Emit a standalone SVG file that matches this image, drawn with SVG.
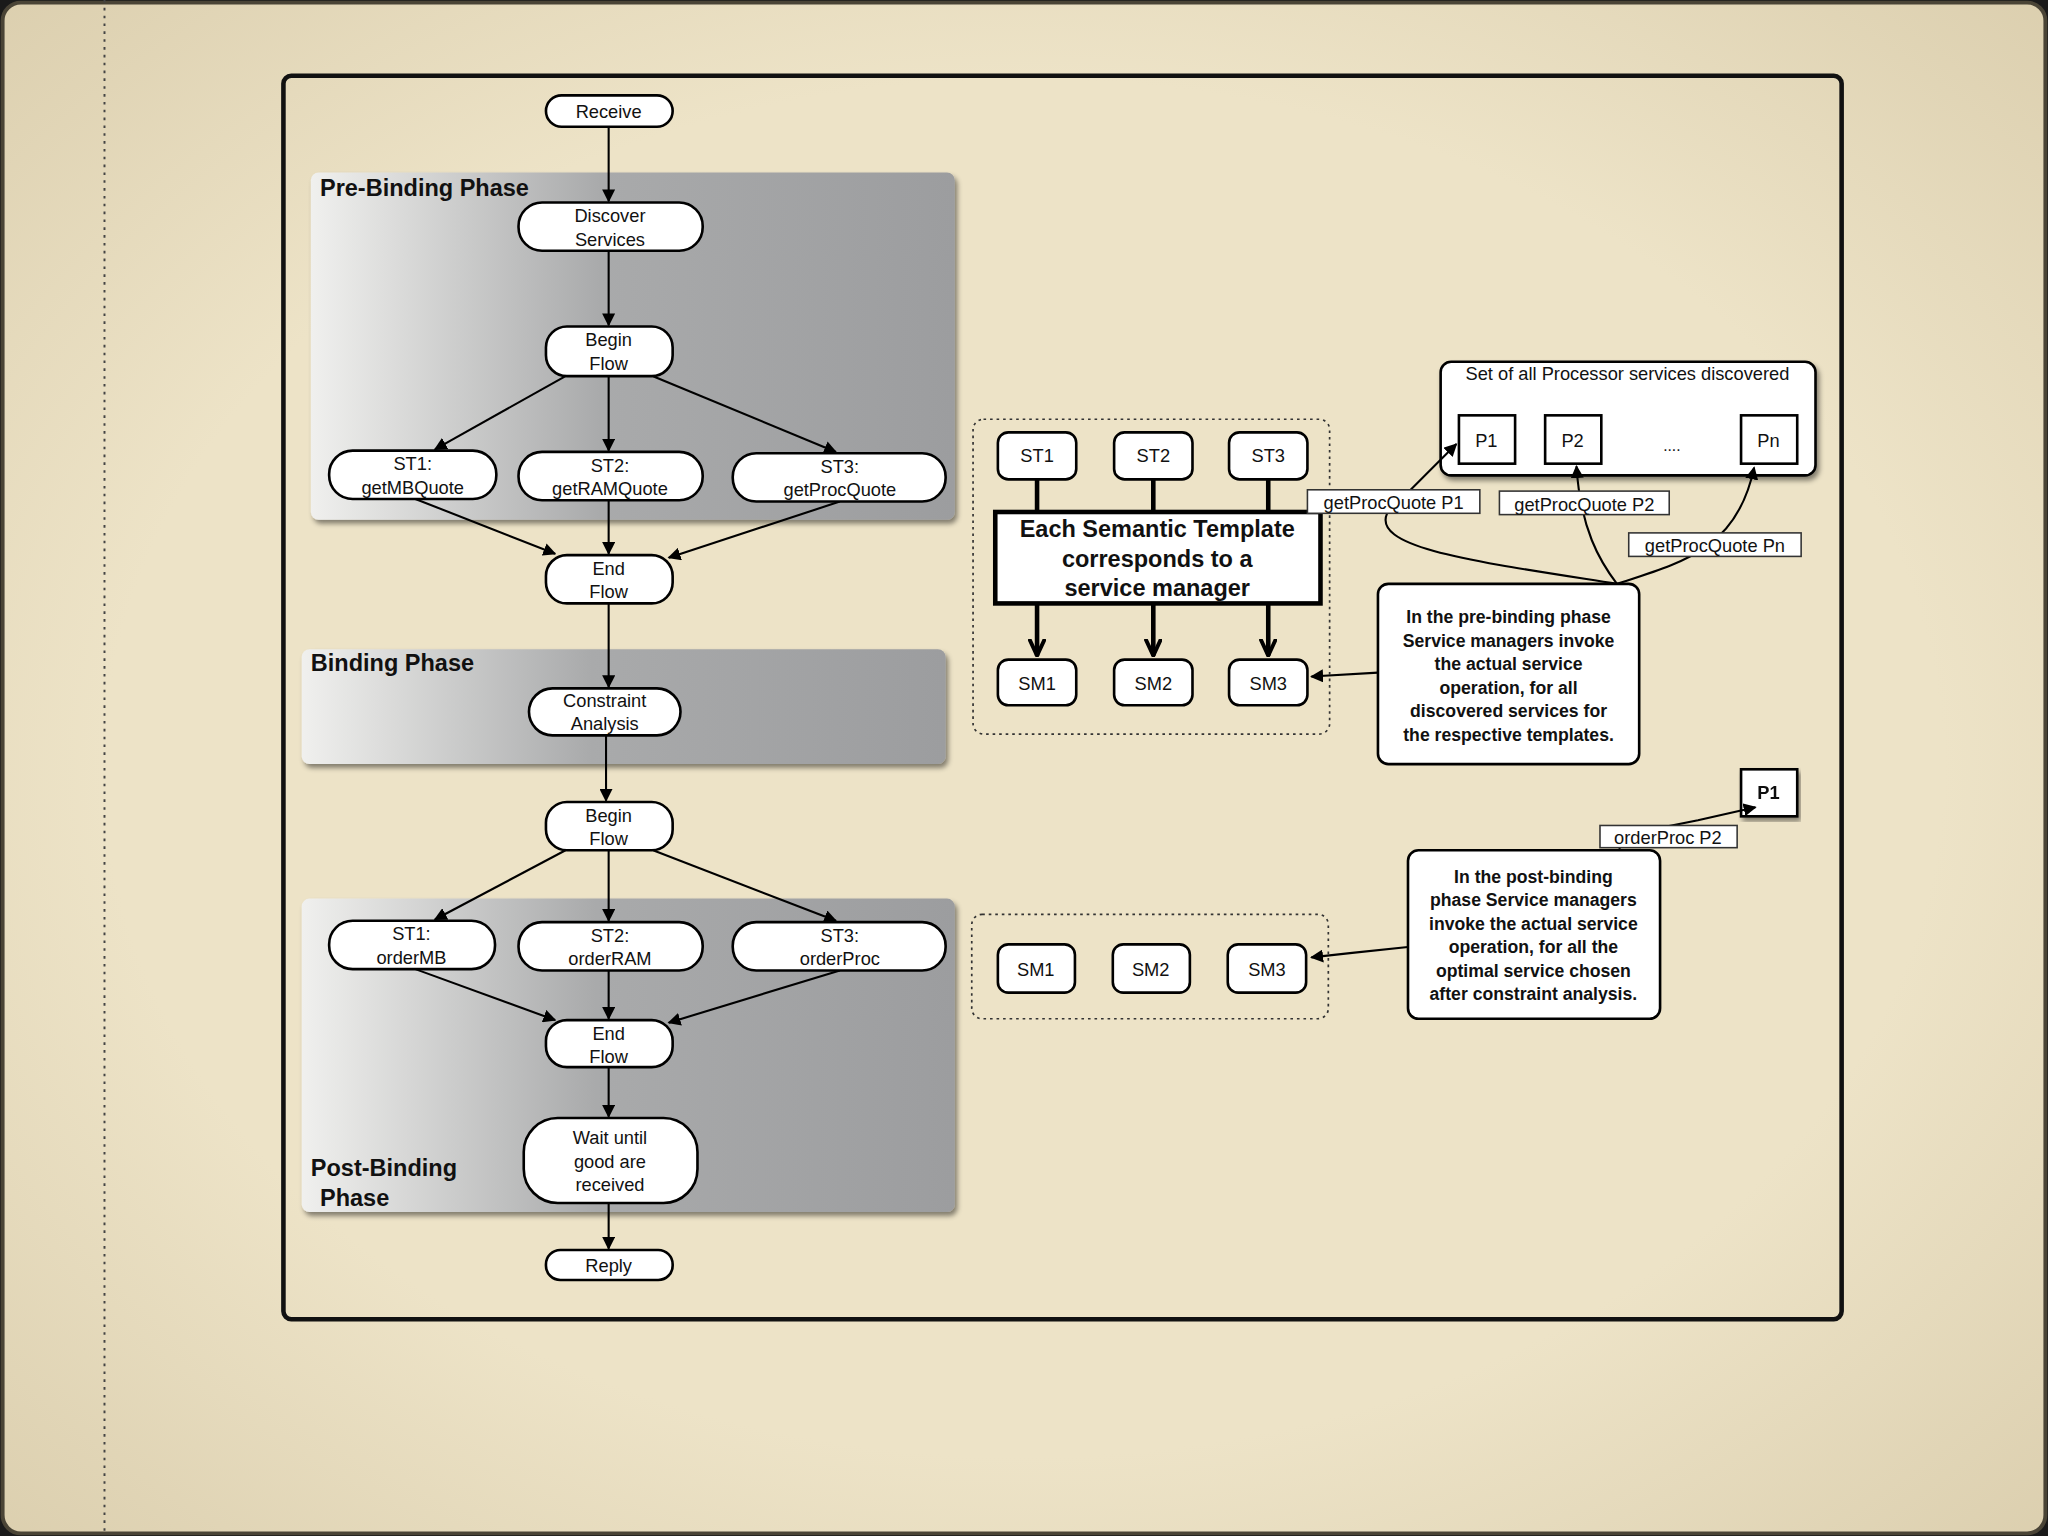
<svg xmlns="http://www.w3.org/2000/svg" width="2048" height="1536" viewBox="0 0 2048 1536">
<defs>
<linearGradient id="pg" x1="0" x2="1" y1="0" y2="0"><stop offset="0" stop-color="#f0f0ee"/><stop offset="0.45" stop-color="#a9aaab"/><stop offset="1" stop-color="#9c9d9f"/></linearGradient>
<radialGradient id="bg" cx="0.5" cy="0.5" r="0.75"><stop offset="0.6" stop-color="#ede3c7"/><stop offset="1" stop-color="#d9ccab"/></radialGradient>
<marker id="ah" markerWidth="10" markerHeight="10" refX="9" refY="5" orient="auto" markerUnits="userSpaceOnUse"><path d="M0,0 L10,5 L0,10 Z" fill="#000"/></marker>
<marker id="ah2" markerWidth="14" markerHeight="14" refX="13" refY="7" orient="auto" markerUnits="userSpaceOnUse"><path d="M0,1 L13,7 L0,13" fill="none" stroke="#000" stroke-width="3"/></marker>
<filter id="sh" x="-5%" y="-5%" width="110%" height="115%"><feDropShadow dx="2" dy="3" stdDeviation="2" flood-opacity="0.45"/></filter>
</defs>
<style>
text{font-family:"Liberation Sans",Arial,sans-serif;fill:#111}
.n rect{fill:#fff;stroke:#000;stroke-width:2}
.n text{font-size:14px;text-anchor:middle}
.b text{font-weight:bold;font-size:13.5px;text-anchor:middle}
.ph{font-weight:bold;font-size:18px}
.c path,.c line{stroke:#000;stroke-width:1.6;fill:none}
.lbl rect{fill:#fff;stroke:#333;stroke-width:1.2}
.lbl text{font-size:14px;text-anchor:middle}
</style>
<rect width="2048" height="1536" fill="#1a1a1a"/>
<g transform="scale(1.30612)">
<rect x="2" y="2" width="1564" height="1172" rx="14" fill="url(#bg)" stroke="#4a4436" stroke-width="3"/>
<line x1="80" y1="0" x2="80" y2="1176" stroke="#444" stroke-width="1.5" stroke-dasharray="2,4"/>
<rect x="217" y="58" width="1193" height="952" rx="6" fill="none" stroke="#111" stroke-width="3.5"/>

<g id="prebinding" filter="url(#sh)"><rect x="238" y="132" width="493" height="266" rx="6" fill="url(#pg)"/></g>
<text class="ph" x="245" y="150">Pre-Binding Phase</text>
<g id="binding" filter="url(#sh)"><rect x="231" y="497" width="493" height="88" rx="6" fill="url(#pg)"/></g>
<text class="ph" x="238" y="514">Binding Phase</text>
<g id="postbinding" filter="url(#sh)"><rect x="231" y="688" width="500" height="240" rx="6" fill="url(#pg)"/></g>
<text class="ph" x="238" y="900">Post-Binding</text>
<text class="ph" x="245" y="923">Phase</text>

<g id="set" filter="url(#sh)"><rect x="1103" y="277" width="287" height="87" rx="8" fill="#fff" stroke="#000" stroke-width="2"/></g>
<text x="1246" y="291" font-size="14" text-anchor="middle">Set of all Processor services discovered</text>
<g id="p1b" class="n b" filter="url(#sh)"><rect x="1333" y="589" width="43" height="36" rx="0"/><text x="1354" y="612" style="font-size:14px">P1</text></g>

<g class="c" id="connectors">
<line x1="466" y1="97" x2="466" y2="154" marker-end="url(#ah)"/>
<line x1="466" y1="192" x2="466" y2="249" marker-end="url(#ah)"/>
<line x1="433" y1="288" x2="333" y2="344" marker-end="url(#ah)"/>
<line x1="466" y1="288" x2="466" y2="345" marker-end="url(#ah)"/>
<line x1="500" y1="288" x2="640" y2="346" marker-end="url(#ah)"/>
<line x1="318" y1="382" x2="425" y2="424" marker-end="url(#ah)"/>
<line x1="466" y1="383" x2="466" y2="424" marker-end="url(#ah)"/>
<line x1="643" y1="384" x2="512" y2="427" marker-end="url(#ah)"/>
<line x1="466" y1="462" x2="466" y2="526" marker-end="url(#ah)"/>
<line x1="464" y1="563" x2="464" y2="613" marker-end="url(#ah)"/>
<line x1="433" y1="651" x2="333" y2="704" marker-end="url(#ah)"/>
<line x1="466" y1="651" x2="466" y2="705" marker-end="url(#ah)"/>
<line x1="500" y1="651" x2="640" y2="705" marker-end="url(#ah)"/>
<line x1="318" y1="742" x2="425" y2="781" marker-end="url(#ah)"/>
<line x1="466" y1="743" x2="466" y2="780" marker-end="url(#ah)"/>
<line x1="643" y1="743" x2="512" y2="783" marker-end="url(#ah)"/>
<line x1="466" y1="817" x2="466" y2="855" marker-end="url(#ah)"/>
<line x1="466" y1="921" x2="466" y2="956" marker-end="url(#ah)"/>
<line x1="794" y1="367" x2="794" y2="392" style="stroke-width:3.5"/>
<line x1="883" y1="367" x2="883" y2="392" style="stroke-width:3.5"/>
<line x1="971" y1="367" x2="971" y2="392" style="stroke-width:3.5"/>
<line x1="794" y1="462" x2="794" y2="502" style="stroke-width:3.5" marker-end="url(#ah2)"/>
<line x1="883" y1="462" x2="883" y2="502" style="stroke-width:3.5" marker-end="url(#ah2)"/>
<line x1="971" y1="462" x2="971" y2="502" style="stroke-width:3.5" marker-end="url(#ah2)"/>
<path d="M1238,447 C1130,430 1050,420 1062,393 L1115,340" marker-end="url(#ah)"/>
<path d="M1238,447 C1225,430 1210,405 1207,357" marker-end="url(#ah)"/>
<path d="M1238,447 C1290,430 1330,420 1343,358" marker-end="url(#ah)"/>
<line x1="1055" y1="515" x2="1004" y2="518" marker-end="url(#ah)"/>
<path d="M1240,651 L1240,640 L1300,628 L1344,618" marker-end="url(#ah)"/>
<path d="M1078,725 C1050,728 1030,730 1004,733" marker-end="url(#ah)"/>
</g>

<g id="receive" class="n"><rect x="418" y="73" width="97" height="24" rx="12"/><text x="466" y="90">Receive</text></g>
<g id="discover" class="n"><rect x="397" y="155" width="141" height="37" rx="18"/><text x="467" y="170">Discover</text><text x="467" y="188">Services</text></g>
<g id="begin1" class="n"><rect x="418" y="250" width="97" height="38" rx="16"/><text x="466" y="265">Begin</text><text x="466" y="283">Flow</text></g>
<g id="st1a" class="n"><rect x="252" y="345" width="128" height="37" rx="18"/><text x="316" y="360">ST1:</text><text x="316" y="378">getMBQuote</text></g>
<g id="st2a" class="n"><rect x="397" y="346" width="141" height="37" rx="18"/><text x="467" y="361">ST2:</text><text x="467" y="379">getRAMQuote</text></g>
<g id="st3a" class="n"><rect x="561" y="347" width="163" height="37" rx="18"/><text x="643" y="362">ST3:</text><text x="643" y="380">getProcQuote</text></g>
<g id="end1" class="n"><rect x="418" y="425" width="97" height="37" rx="16"/><text x="466" y="440">End</text><text x="466" y="458">Flow</text></g>
<g id="constraint" class="n"><rect x="405" y="527" width="116" height="36" rx="18"/><text x="463" y="541">Constraint</text><text x="463" y="559">Analysis</text></g>
<g id="begin2" class="n"><rect x="418" y="614" width="97" height="37" rx="16"/><text x="466" y="629">Begin</text><text x="466" y="647">Flow</text></g>
<g id="st1b" class="n"><rect x="252" y="705" width="127" height="37" rx="18"/><text x="315" y="720">ST1:</text><text x="315" y="738">orderMB</text></g>
<g id="st2b" class="n"><rect x="397" y="706" width="141" height="37" rx="18"/><text x="467" y="721">ST2:</text><text x="467" y="739">orderRAM</text></g>
<g id="st3b" class="n"><rect x="561" y="706" width="163" height="37" rx="18"/><text x="643" y="721">ST3:</text><text x="643" y="739">orderProc</text></g>
<g id="end2" class="n"><rect x="418" y="781" width="97" height="36" rx="16"/><text x="466" y="796">End</text><text x="466" y="814">Flow</text></g>
<g id="wait" class="n"><rect x="401" y="856" width="133" height="65" rx="26"/><text x="467" y="876">Wait until</text><text x="467" y="894">good are</text><text x="467" y="912">received</text></g>
<g id="reply" class="n"><rect x="418" y="957" width="97" height="23" rx="11"/><text x="466" y="974">Reply</text></g>

<rect x="745" y="321" width="273" height="241" rx="8" fill="none" stroke="#333" stroke-width="1.3" stroke-dasharray="2,3"/>
<g id="st1" class="n"><rect x="764" y="331" width="60" height="36" rx="8"/><text x="794" y="354">ST1</text></g>
<g id="st2" class="n"><rect x="853" y="331" width="60" height="36" rx="8"/><text x="883" y="354">ST2</text></g>
<g id="st3" class="n"><rect x="941" y="331" width="60" height="36" rx="8"/><text x="971" y="354">ST3</text></g>
<g id="template"><rect x="762" y="392" width="249" height="70" fill="#fff" stroke="#000" stroke-width="3.5"/>
<text x="886" y="411" font-weight="bold" font-size="18" text-anchor="middle">Each Semantic Template</text>
<text x="886" y="434" font-weight="bold" font-size="18" text-anchor="middle">corresponds to a</text>
<text x="886" y="456" font-weight="bold" font-size="18" text-anchor="middle">service manager</text></g>
<g id="sm1" class="n"><rect x="764" y="505" width="60" height="35" rx="8"/><text x="794" y="528">SM1</text></g>
<g id="sm2" class="n"><rect x="853" y="505" width="60" height="35" rx="8"/><text x="883" y="528">SM2</text></g>
<g id="sm3" class="n"><rect x="941" y="505" width="60" height="35" rx="8"/><text x="971" y="528">SM3</text></g>

<g id="p1" class="n"><rect x="1117" y="318" width="43" height="37" rx="0"/><text x="1138" y="342">P1</text></g>
<g id="p2" class="n"><rect x="1183" y="318" width="43" height="37" rx="0"/><text x="1204" y="342">P2</text></g>
<text x="1280" y="345" font-size="12" text-anchor="middle">....</text>
<g id="pn" class="n"><rect x="1333" y="318" width="43" height="37" rx="0"/><text x="1354" y="342">Pn</text></g>
<g class="lbl" id="l1"><rect x="1001" y="375" width="132" height="18"/><text x="1067" y="390">getProcQuote P1</text></g>
<g class="lbl" id="l2"><rect x="1148" y="376" width="130" height="18"/><text x="1213" y="391">getProcQuote P2</text></g>
<g class="lbl" id="l3"><rect x="1247" y="408" width="132" height="18"/><text x="1313" y="423">getProcQuote Pn</text></g>
<g id="note1" class="n b"><rect x="1055" y="447" width="200" height="138" rx="8"/>
<text x="1155" y="477">In the pre-binding phase</text><text x="1155" y="495">Service managers invoke</text><text x="1155" y="513">the actual service</text><text x="1155" y="531">operation, for all</text><text x="1155" y="549">discovered services for</text><text x="1155" y="567">the respective templates.</text></g>

<rect x="744" y="700" width="273" height="80" rx="8" fill="none" stroke="#333" stroke-width="1.3" stroke-dasharray="2,3"/>
<g id="sm1b" class="n"><rect x="764" y="723" width="59" height="37" rx="8"/><text x="793" y="747">SM1</text></g>
<g id="sm2b" class="n"><rect x="852" y="723" width="59" height="37" rx="8"/><text x="881" y="747">SM2</text></g>
<g id="sm3b" class="n"><rect x="940" y="723" width="60" height="37" rx="8"/><text x="970" y="747">SM3</text></g>
<g class="lbl" id="l4"><rect x="1225" y="632" width="105" height="17"/><text x="1277" y="646">orderProc P2</text></g>
<g id="note2" class="n b"><rect x="1078" y="651" width="193" height="129" rx="8"/>
<text x="1174" y="676">In the post-binding</text><text x="1174" y="694">phase Service managers</text><text x="1174" y="712">invoke the actual service</text><text x="1174" y="730">operation, for all the</text><text x="1174" y="748">optimal service chosen</text><text x="1174" y="766">after constraint analysis.</text></g>
</g>
</svg>
